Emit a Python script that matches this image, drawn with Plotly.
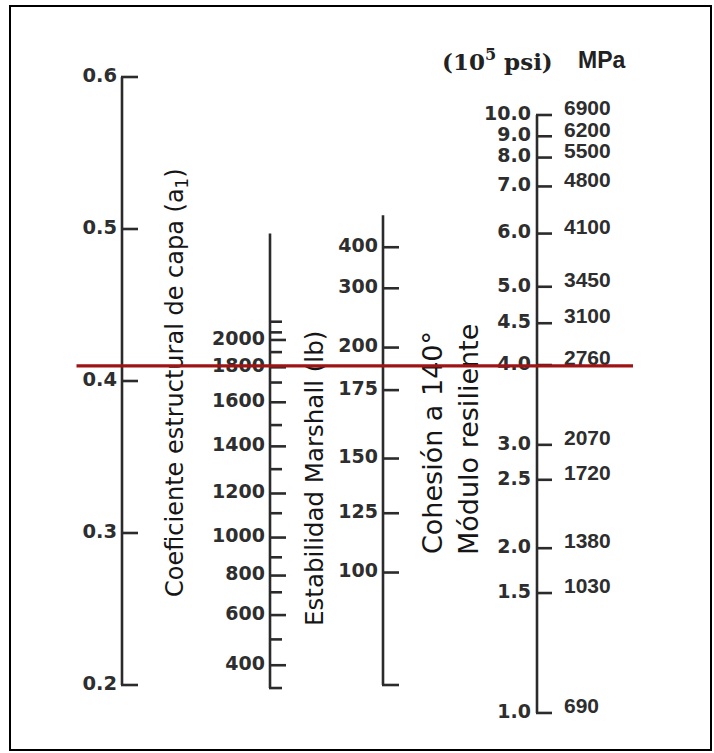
import plotly.graph_objects as go

# ---------------- data (positions expressed on the a1 scale) ----------------
# Scale 1: structural layer coefficient a1
a1_ticks = [0.2, 0.3, 0.4, 0.5, 0.6]
a1_labels = ["0.2", "0.3", "0.4", "0.5", "0.6"]

# Scale 2: Marshall stability (lb) -> equivalent a1
marshall_ticks = [400, 600, 800, 1000, 1200, 1400, 1600, 1800, 2000]
marshall_a1 = [0.213, 0.246, 0.272, 0.297, 0.326, 0.357, 0.386, 0.409, 0.427]
marshall_minor = [300, 500, 700, 900, 1100, 1300, 1500, 1700, 1900, 2100, 2200]
marshall_minor_a1 = [0.198, 0.230, 0.261, 0.284, 0.313, 0.342, 0.371, 0.399, 0.419, 0.432, 0.439]
marshall_top_a1 = 0.497

# Scale 3: cohesion at 140 F -> equivalent a1
cohesion_ticks = [400, 300, 200, 175, 150, 125, 100]
cohesion_a1 = [0.488, 0.461, 0.422, 0.394, 0.349, 0.313, 0.274]
cohesion_top_a1 = 0.509
cohesion_bottom_a1 = 0.200

# Scale 4: resilient modulus (10^5 psi and MPa) -> equivalent a1
modulus_psi = ["10.0", "9.0", "8.0", "7.0", "6.0", "5.0", "4.5", "4.0", "3.0", "2.5", "2.0", "1.5", "1.0"]
modulus_mpa = ["6900", "6200", "5500", "4800", "4100", "3450", "3100", "2760", "2070", "1720", "1380", "1030", "690"]
modulus_a1 = [0.575, 0.561, 0.547, 0.528, 0.497, 0.462, 0.438, 0.4105, 0.358, 0.335, 0.290, 0.2605, 0.1816]

# Reading line
selected_a1 = 0.41

# ---------------- layout helpers ----------------
W, H = 714, 753
PX = 0.4 / 608.0                     # a1 units per pixel
Y_TOP = 0.2 + 685 * PX
Y_BOT = 0.2 - (H - 685) * PX

X_A1, X_MAR, X_COH, X_MOD = 122, 270, 383, 537
AX_COL = "#2b2b2b"
LBL_COL = "#2e2e2e"
LW = 2.6
NUM_FONT = "DejaVu Sans"


def px_paper_x(p):
    return p / W


def px_paper_y(p):
    return 1 - p / H


shapes = []
annotations = []
fig = go.Figure()


def vline(x, y0, y1):
    shapes.append(dict(type="line", xref="x", yref="y", x0=x, x1=x, y0=y0, y1=y1,
                       line=dict(color=AX_COL, width=LW)))


def tick(x, y, length):
    shapes.append(dict(type="line", xref="x", yref="y", x0=x - 1, x1=x + length, y0=y, y1=y,
                       line=dict(color=AX_COL, width=LW)))


def labels(x, ys, texts, pos="middle left", size=19, family=NUM_FONT):
    fig.add_trace(go.Scatter(x=[x] * len(ys), y=ys, mode="text",
                             text=["<b>" + t + "</b>" for t in texts],
                             textposition=pos, hoverinfo="skip",
                             textfont=dict(family=family, size=size, color=LBL_COL)))


# Scale 1
vline(X_A1, min(a1_ticks), max(a1_ticks))
for v in a1_ticks:
    tick(X_A1, v, 16)
labels(X_A1 - 5, a1_ticks, a1_labels, size=19.5)

# Scale 2
vline(X_MAR, min(marshall_minor_a1), marshall_top_a1)
for p in marshall_a1:
    tick(X_MAR, p, 16)
for p in marshall_minor_a1:
    tick(X_MAR, p, 12)
labels(X_MAR - 5, marshall_a1, [str(v) for v in marshall_ticks])

# Scale 3
vline(X_COH, cohesion_bottom_a1, cohesion_top_a1)
tick(X_COH, cohesion_bottom_a1, 16)
for p in cohesion_a1:
    tick(X_COH, p, 16)
labels(X_COH - 5, cohesion_a1, [str(v) for v in cohesion_ticks])

# Scale 4
vline(X_MOD, min(modulus_a1), max(modulus_a1))
for p in modulus_a1:
    tick(X_MOD, p, 15)
labels(X_MOD - 6, modulus_a1, modulus_psi)
labels(X_MOD + 27, [p + 5 * PX for p in modulus_a1], modulus_mpa,
       pos="middle right", size=21, family="Liberation Sans")

# Border
shapes.append(dict(type="rect", xref="paper", yref="paper", x0=px_paper_x(10), x1=px_paper_x(711),
                   y0=px_paper_y(750), y1=px_paper_y(6), line=dict(color="black", width=2)))

# Titles
TF = "DejaVu Sans"
TC = "#161616"
titles = [
    (177, 0.3987, "Coeficiente estructural de capa (a<sub>1</sub>)", 24),
    (315, 0.3356, "Estabilidad Marshall (lb)", 24.5),
    (432, 0.3592, "Cohesión a 140°", 27),
    (469, 0.3612, "Módulo resiliente", 27),
]
for x, y, t, s in titles:
    annotations.append(dict(x=x, y=y, xref="x", yref="y", text=t, textangle=-90,
                            showarrow=False, xanchor="center", yanchor="middle",
                            font=dict(family=TF, size=s, color=TC)))

# Header
annotations.append(dict(x=px_paper_x(497), y=px_paper_y(60), xref="paper", yref="paper",
                        text="<b>(10<sup>5</sup> psi)</b>", showarrow=False,
                        xanchor="center", yanchor="middle",
                        font=dict(family="DejaVu Serif", size=23, color="#222")))
annotations.append(dict(x=px_paper_x(602), y=px_paper_y(60), xref="paper", yref="paper",
                        text="<b>MPa</b>", showarrow=False, xanchor="center", yanchor="middle",
                        font=dict(family="Liberation Sans", size=23, color="#222")))

# Reading line (drawn last, on top of the texts)
annotations.append(dict(x=633, y=selected_a1, ax=75, ay=selected_a1, xref="x", yref="y",
                        axref="x", ayref="y", text="", showarrow=True, arrowhead=0,
                        arrowwidth=3.2, arrowcolor="#9e1414", standoff=0, startstandoff=0))

fig.update_layout(
    width=W, height=H, margin=dict(l=0, r=0, t=0, b=0),
    paper_bgcolor="white", plot_bgcolor="white",
    xaxis=dict(range=[0, W], visible=False, fixedrange=True),
    yaxis=dict(range=[Y_BOT, Y_TOP], visible=False, fixedrange=True),
    shapes=shapes, annotations=annotations, showlegend=False,
    hovermode=False,
)
fig.write_html("out.html", config={"displayModeBar": False, "staticPlot": True},
               post_script="document.body.style.margin='0px';document.body.style.overflow='hidden';")
